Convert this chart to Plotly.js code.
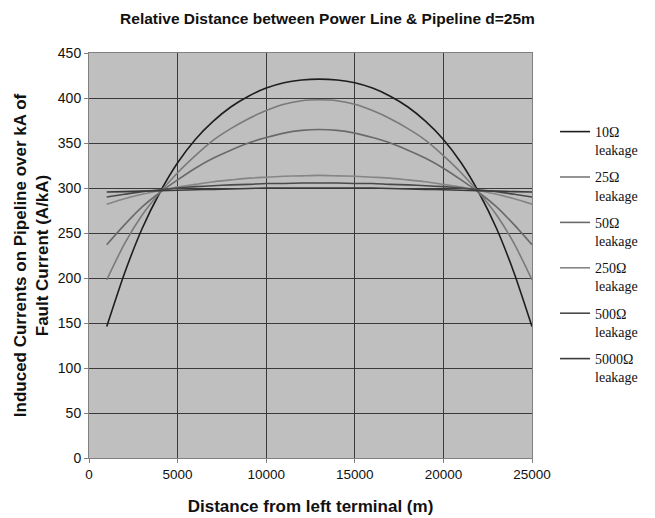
<!DOCTYPE html>
<html>
<head>
<meta charset="utf-8">
<script src="https://cdn.plot.ly/plotly-3.0.1.min.js"></script>
<style>html,body{margin:0;padding:0;background:#fff;}#chart{width:655px;height:518px;}</style>
</head>
<body>
<div id="chart"></div>
<script>
// Distance from left terminal (m)
const distances = [1000,2000,3000,4000,5000,6000,7000,8000,9000,10000,11000,12000,13000,14000,15000,16000,17000,18000,19000,20000,21000,22000,23000,24000,25000];

const seriesNames = ["10Ω<br>leakage","25Ω<br>leakage","50Ω<br>leakage","250Ω<br>leakage","500Ω<br>leakage","5000Ω<br>leakage"];

const leak10   = [146,205,255,295,328,354,374,390,402,411,417,420,421,420,417,411,402,390,374,354,328,295,255,205,146];
const leak25   = [198,238,270,295,317,336,353,366,377,386,393,397,398,397,393,386,377,366,353,336,317,295,270,238,198];
const leak50   = [237,259,279,295,309,322,333,342,350,356,361,364,365,364,361,356,350,342,333,322,309,295,279,259,237];
const leak250  = [282,288,293,297,301,304,307,309,311,312,313,313.5,314,313.5,313,312,311,309,307,304,301,297,293,288,282];
const leak500  = [290,293,296,298,300,301.5,302.5,303.5,304,305,305,305.5,305.5,305.5,305,305,304,303.5,302.5,301.5,300,298,296,293,290];
const leak5000 = [295.5,296,296.5,297,297.5,298,298.5,299,299.5,300,300,300,300,300,300,300,299.5,299,298.5,298,297.5,297,296.5,296,295.5];

const seriesValues = [leak10, leak25, leak50, leak250, leak500, leak5000];
const seriesColors = ["#1e1e1e","#7a7a7a","#6a6a6a","#858585","#4a4a4a","#3a3a3a"];

const traces = seriesValues.map((vals, i) => ({
  type: "scatter",
  mode: "lines",
  x: distances,
  y: vals,
  name: seriesNames[i],
  legendgroup: "g" + i,
  line: {color: seriesColors[i], width: 1.6, shape: "spline", smoothing: 0.6}
}));

const layout = {
  width: 655,
  height: 518,
  margin: {l: 89, r: 116, t: 53, b: 60},
  paper_bgcolor: "#ffffff",
  plot_bgcolor: "#bfbfbf",
  font: {family: "Liberation Sans, Arial, sans-serif", size: 13, color: "#111"},
  title: {
    text: "<b>Relative Distance between Power Line & Pipeline d=25m</b>",
    font: {family: "Liberation Sans, Arial, sans-serif", size: 15.5, color: "#111"},
    x: 0.5, xref: "container", xanchor: "center",
    y: 1 - 19/518, yref: "container", yanchor: "middle"
  },
  xaxis: {
    range: [0, 25000],
    tickvals: [0,5000,10000,15000,20000,25000],
    ticktext: ["0","5000","10000","15000","20000","25000"],
    showgrid: true, gridcolor: "#3a3a3a", gridwidth: 1,
    zeroline: false,
    showline: true, linecolor: "#808080", linewidth: 1, mirror: true,
    ticks: "outside", ticklen: 4, tickcolor: "#808080",
    tickfont: {size: 13.5, color: "#111"},
    title: {text: "<b>Distance from left terminal (m)</b>", font: {size: 17, color: "#111"}, standoff: 18}
  },
  yaxis: {
    range: [0, 450],
    tickvals: [0,50,100,150,200,250,300,350,400,450],
    showgrid: true, gridcolor: "#3a3a3a", gridwidth: 1,
    zeroline: false,
    showline: true, linecolor: "#808080", linewidth: 1, mirror: true,
    ticks: "outside", ticklen: 4, tickcolor: "#808080",
    tickfont: {size: 14, color: "#111"},
    title: {text: "<b>Induced Currents on Pipeline over kA of<br>Fault Current (A/kA)</b>", font: {size: 17, color: "#111"}, standoff: 4}
  },
  showlegend: true,
  legend: {
    x: 1.052, xanchor: "left",
    y: (458 - 116) / 405, yanchor: "top",
    valign: "top",
    font: {family: "Liberation Serif, Times New Roman, serif", size: 14, color: "#111"},
    bgcolor: "rgba(0,0,0,0)",
    tracegroupgap: 6,
    itemwidth: 30
  }
};

Plotly.newPlot("chart", traces, layout, {displayModeBar: false, staticPlot: true});
</script>
</body>
</html>
